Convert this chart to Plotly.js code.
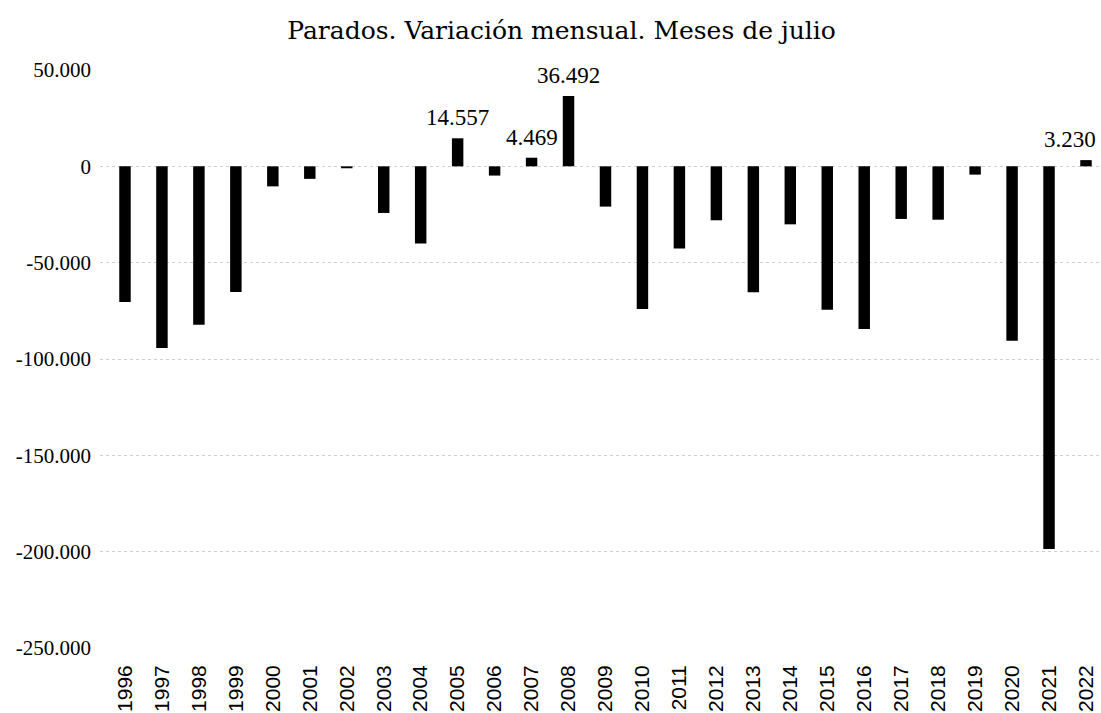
<!DOCTYPE html>
<html>
<head>
<meta charset="utf-8">
<script src="https://cdn.plot.ly/plotly-3.0.1.min.js"></script>
<style>html,body{margin:0;padding:0;background:#fff;}#chart{width:1101px;height:713px;}</style>
</head>
<body>
<div id="chart"></div>
<script>
const years = ["1996","1997","1998","1999","2000","2001","2002","2003","2004","2005","2006","2007","2008","2009","2010","2011","2012","2013","2014","2015","2016","2017","2018","2019","2020","2021","2022"];
const paradosVariacion = [-70400,-94300,-82200,-65200,-10400,-6500,-1000,-24200,-40100,14557,-4800,4469,36492,-20900,-74000,-42600,-28000,-65400,-30100,-74400,-84400,-27300,-27700,-4300,-90500,-198600,3230];
const yTickVals = [50000,0,-50000,-100000,-150000,-200000,-250000];
const yTickText = ["50.000","0","-50.000","-100.000","-150.000","-200.000","-250.000"];
const titleText = "Parados. Variación mensual. Meses de julio";

function fmt(v){
  return Math.round(v).toString().replace(/\B(?=(\d{3})+(?!\d))/g, ".");
}

const annotations = [];
paradosVariacion.forEach((v, i) => {
  if (v > 0) {
    const last = i === years.length - 1;
    annotations.push({
      x: i, y: v, xref: 'x', yref: 'y',
      text: fmt(v), showarrow: false,
      xanchor: 'center', yanchor: 'bottom',
      xshift: last ? -16 : 0, yshift: 6,
      font: {family: 'Liberation Serif, serif', size: 23, color: '#000'}
    });
  }
});

const trace = {
  type: 'bar',
  x: years,
  y: paradosVariacion,
  marker: {color: '#000'},
  hoverinfo: 'x+y'
};

const layout = {
  width: 1101, height: 713,
  margin: {l: 100, r: 0, t: 70, b: 65},
  paper_bgcolor: '#fff', plot_bgcolor: '#fff',
  bargap: 0.69,
  showlegend: false,
  title: {
    text: titleText,
    font: {family: 'DejaVu Serif, serif', size: 25, color: '#000'},
    xref: 'container', x: 0.51, xanchor: 'center',
    yref: 'container', y: 0.958, yanchor: 'middle'
  },
  xaxis: {
    type: 'category',
    range: [-0.676, 26.406],
    showgrid: false, zeroline: false, showline: false,
    tickangle: -90,
    ticks: '',
    ticklabelstandoff: 12,
    tickfont: {family: 'Liberation Sans, Arial, sans-serif', size: 21, color: '#000'}
  },
  yaxis: {
    range: [-250000, 50000],
    tickvals: yTickVals, ticktext: yTickText,
    showgrid: true, gridcolor: '#cfcfcf', griddash: 'dot', gridwidth: 1,
    zeroline: false, showline: false,
    ticks: '',
    ticklabelstandoff: 8,
    tickfont: {family: 'Liberation Serif, serif', size: 21, color: '#000'}
  },
  annotations: annotations
};

Plotly.newPlot('chart', [trace], layout, {displayModeBar: false, staticPlot: true});
</script>
</body>
</html>
